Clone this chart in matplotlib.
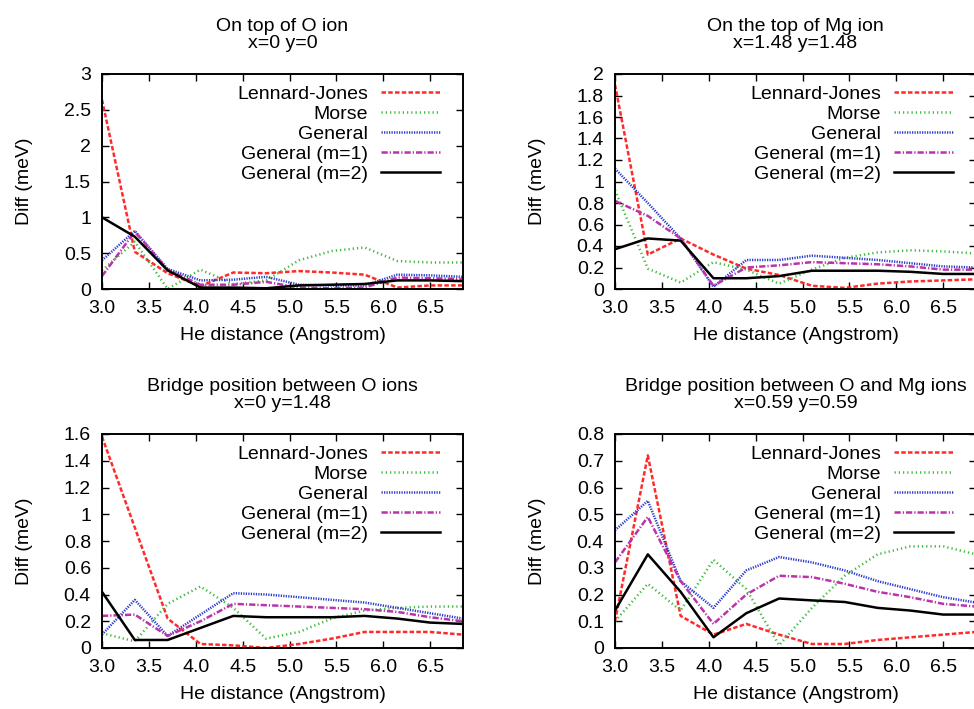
import matplotlib
matplotlib.use("Agg")
import matplotlib.pyplot as plt
from matplotlib.ticker import FixedLocator, FormatStrFormatter, FuncFormatter

plt.rcParams['font.family'] = ['Liberation Sans', 'DejaVu Sans']
plt.rcParams['font.size'] = 14

# He distances (Angstrom)
distances = [3.0, 3.35, 3.7, 4.05, 4.4, 4.75, 5.1, 5.45, 5.8, 6.15, 6.5, 6.85]

series_names = ["Lennard-Jones", "Morse", "General", "General (m=1)", "General (m=2)"]

# panel 1 : on top of O ion
o_top_lj = [2.64, 0.52, 0.22, 0.04, 0.23, 0.22, 0.25, 0.23, 0.20, 0.02, 0.05, 0.05]
o_top_morse = [0.26, 0.66, 0.00, 0.27, 0.07, 0.12, 0.40, 0.53, 0.58, 0.39, 0.37, 0.37]
o_top_general = [0.40, 0.81, 0.28, 0.12, 0.13, 0.17, 0.06, 0.05, 0.05, 0.20, 0.19, 0.17]
o_top_m1 = [0.18, 0.80, 0.27, 0.06, 0.06, 0.10, 0.02, 0.01, 0.02, 0.16, 0.15, 0.14]
o_top_m2 = [1.00, 0.73, 0.26, 0.02, 0.02, 0.01, 0.05, 0.06, 0.07, 0.12, 0.12, 0.11]

# panel 2 : on top of Mg ion
mg_top_lj = [1.90, 0.32, 0.47, 0.32, 0.19, 0.13, 0.03, 0.01, 0.05, 0.07, 0.08, 0.09]
mg_top_morse = [0.92, 0.19, 0.06, 0.25, 0.18, 0.05, 0.18, 0.29, 0.34, 0.36, 0.35, 0.33]
mg_top_general = [1.12, 0.80, 0.47, 0.02, 0.27, 0.27, 0.31, 0.29, 0.27, 0.24, 0.21, 0.20]
mg_top_m1 = [0.82, 0.68, 0.47, 0.03, 0.20, 0.22, 0.25, 0.24, 0.23, 0.21, 0.18, 0.18]
mg_top_m2 = [0.37, 0.47, 0.45, 0.10, 0.10, 0.12, 0.17, 0.17, 0.17, 0.16, 0.14, 0.14]

# panel 3 : bridge between O ions
o_bridge_lj = [1.58, 0.90, 0.22, 0.03, 0.02, 0.00, 0.03, 0.07, 0.12, 0.12, 0.12, 0.10]
o_bridge_morse = [0.11, 0.05, 0.33, 0.46, 0.30, 0.07, 0.12, 0.22, 0.28, 0.30, 0.31, 0.31]
o_bridge_general = [0.10, 0.36, 0.09, 0.25, 0.41, 0.40, 0.38, 0.36, 0.34, 0.30, 0.26, 0.22]
o_bridge_m1 = [0.24, 0.25, 0.09, 0.20, 0.33, 0.32, 0.31, 0.30, 0.29, 0.27, 0.23, 0.20]
o_bridge_m2 = [0.42, 0.06, 0.06, 0.15, 0.24, 0.23, 0.23, 0.23, 0.24, 0.22, 0.19, 0.18]

# panel 4 : bridge between O and Mg ions
omg_bridge_lj = [0.10, 0.72, 0.12, 0.05, 0.09, 0.05, 0.015, 0.015, 0.03, 0.04, 0.05, 0.06]
omg_bridge_morse = [0.10, 0.24, 0.14, 0.33, 0.22, 0.01, 0.15, 0.27, 0.35, 0.38, 0.38, 0.35]
omg_bridge_general = [0.44, 0.55, 0.25, 0.15, 0.29, 0.34, 0.32, 0.29, 0.25, 0.22, 0.19, 0.17]
omg_bridge_m1 = [0.32, 0.49, 0.25, 0.09, 0.20, 0.27, 0.265, 0.24, 0.21, 0.19, 0.165, 0.155]
omg_bridge_m2 = [0.14, 0.35, 0.21, 0.04, 0.13, 0.185, 0.178, 0.172, 0.15, 0.14, 0.125, 0.125]

styles = [
    dict(color="#ff2a2a", linestyle=(0, (1.8, 0.9))),
    dict(color="#3cbb3c", linestyle=(0, (0.5, 1.2))),
    dict(color="#2a3acc", linestyle=(0, (0.5, 0.5))),
    dict(color="#bb33aa", linestyle=(0, (2.5, 0.8, 0.5, 0.8))),
    dict(color="black", linestyle="-"),
]

panels = [
    ("On top of O ion\nx=0 y=0",
     [o_top_lj, o_top_morse, o_top_general, o_top_m1, o_top_m2], 3.0, 0.5),
    ("On the top of Mg ion\nx=1.48 y=1.48",
     [mg_top_lj, mg_top_morse, mg_top_general, mg_top_m1, mg_top_m2], 2.0, 0.2),
    ("Bridge position between O ions\nx=0 y=1.48",
     [o_bridge_lj, o_bridge_morse, o_bridge_general, o_bridge_m1, o_bridge_m2], 1.6, 0.2),
    ("Bridge position between O and Mg ions\nx=0.59 y=0.59",
     [omg_bridge_lj, omg_bridge_morse, omg_bridge_general, omg_bridge_m1, omg_bridge_m2], 0.8, 0.1),
]

W, H = 974, 709
# axes boxes in pixels (left, top, right, bottom)
boxes = [(102, 74, 463, 289), (615, 74, 976, 289),
         (102, 434, 463, 648), (615, 434, 976, 648)]

fig = plt.figure(figsize=(W / 100, H / 100), dpi=100)

for (title, data, ymax, ystep), (l, t, r, b) in zip(panels, boxes):
    ax = fig.add_axes([l / W, (H - b) / H, (r - l) / W, (b - t) / H])
    for name, values, st in zip(series_names, data, styles):
        ax.plot(distances, values, label=name, linewidth=1.8, **st)
    ax.set_xlim(3.0, 6.85)
    ax.set_ylim(0, ymax)
    ax.xaxis.set_major_locator(FixedLocator([3.0 + 0.5 * i for i in range(8)]))
    ax.xaxis.set_major_formatter(FormatStrFormatter("%.1f"))
    n = int(round(ymax / ystep))
    ax.yaxis.set_major_locator(FixedLocator([ystep * i for i in range(n + 1)]))
    ax.yaxis.set_major_formatter(FuncFormatter(lambda v, p: "%g" % round(v, 3)))
    ax.tick_params(direction="in", length=5, width=1.0, top=True, right=True,
                   labelsize=14)
    ax.tick_params(axis="y", pad=8)
    ax.tick_params(axis="x", pad=8)
    for sp in ax.spines.values():
        sp.set_linewidth(1.4)
    ax.set_title(title, fontsize=14, pad=19, linespacing=1.0)
    ax.set_xlabel("He distance (Angstrom)", fontsize=14, labelpad=7)
    ax.set_ylabel("Diff (meV)", fontsize=14, labelpad=22)
    ax.legend(loc="upper right", frameon=False, markerfirst=False,
              handlelength=3.0, handletextpad=0.7, labelspacing=0.12,
              borderaxespad=0.2, bbox_to_anchor=(0.968, 1.0), fontsize=14)

fig.savefig("out.png", dpi=100)
